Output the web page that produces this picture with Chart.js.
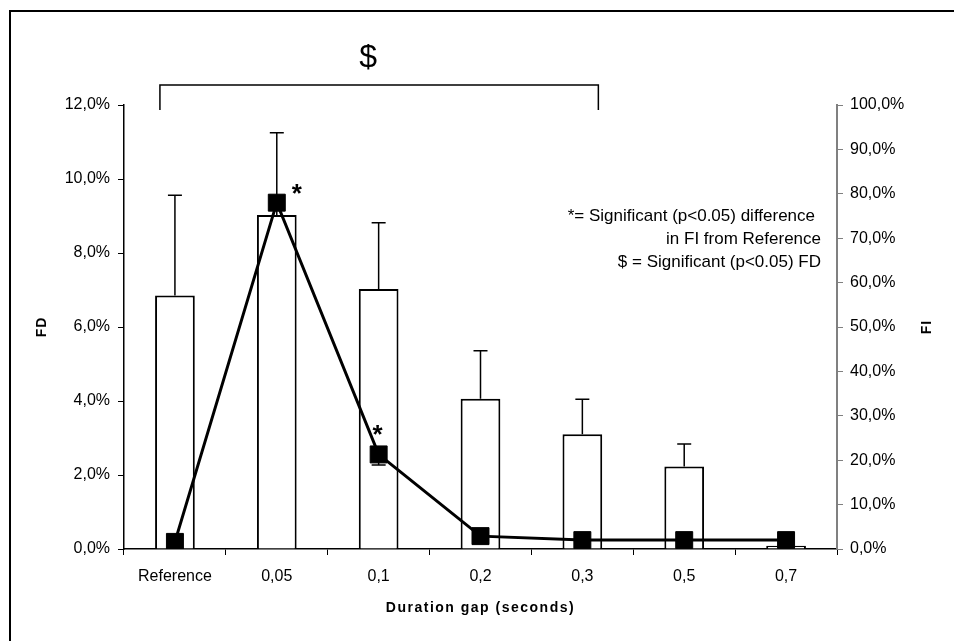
<!DOCTYPE html>
<html>
<head>
<meta charset="utf-8">
<script src="https://cdn.jsdelivr.net/npm/chart.js@4"></script>
<style>
  body { margin: 0; background: #fff; }
  #chart { display: block; }
</style>
</head>
<body>
<canvas id="chart" width="954" height="641"></canvas>
<script>
// Data (percent units)
const categories = ['Reference', '0,05', '0,1', '0,2', '0,3', '0,5', '0,7'];
const fdValues = [6.85, 9.03, 7.03, 4.06, 3.10, 2.23, 0.09];
const fdErrors = [2.71, 2.22, 1.79, 1.30, 0.95, 0.61, 0];
const fiValues = [1.6, 78.0, 21.3, 2.9, 2.0, 2.0, 2.0];
const fiErrors = [0, 0, 2.4, 0, 0, 0, 0];
const significantFI = [1, 2];

const FONT = "'Liberation Sans', Arial, sans-serif";

function pct(v) {
    return v.toFixed(1).replace('.', ',') + '%';
}

// error bars: FD upward, FI downward
const errorBars = {
    id: 'errorBars',
    afterDatasetsDraw(chart) {
        const ctx = chart.ctx;
        const x = chart.scales.x;
        const yL = chart.scales.yFD;
        const yR = chart.scales.yFI;
        ctx.save();
        ctx.strokeStyle = '#000';
        ctx.lineWidth = 1.5;
        categories.forEach((c, i) => {
            const px = x.getPixelForValue(i);
            if (fdErrors[i] > 0) {
                const y0 = yL.getPixelForValue(fdValues[i]);
                const y1 = yL.getPixelForValue(fdValues[i] + fdErrors[i]);
                ctx.beginPath();
                ctx.moveTo(px, y0); ctx.lineTo(px, y1);
                ctx.moveTo(px - 7, y1); ctx.lineTo(px + 7, y1);
                ctx.stroke();
            }
            if (fiErrors[i] > 0) {
                const y0 = yR.getPixelForValue(fiValues[i]);
                const y1 = yR.getPixelForValue(fiValues[i] - fiErrors[i]);
                ctx.beginPath();
                ctx.moveTo(px, y0); ctx.lineTo(px, y1);
                ctx.moveTo(px - 7, y1); ctx.lineTo(px + 7, y1);
                ctx.stroke();
            }
        });
        ctx.restore();
    }
};

// frame, titles, bracket, asterisks, note
const decorations = {
    id: 'decorations',
    afterDraw(chart) {
        const ctx = chart.ctx;
        const x = chart.scales.x;
        const yR = chart.scales.yFI;
        const area = chart.chartArea;
        ctx.save();
        ctx.strokeStyle = '#000';
        ctx.lineWidth = 2;
        ctx.beginPath();
        ctx.moveTo(10, 641); ctx.lineTo(10, 11); ctx.lineTo(954, 11);
        ctx.stroke();

        ctx.fillStyle = '#000';
        // axis titles
        ctx.font = 'bold 14px ' + FONT;
        ctx.textAlign = 'center';
        ctx.textBaseline = 'middle';
        ctx.letterSpacing = '1px';
        ctx.save();
        ctx.translate(42, (area.top + area.bottom) / 2);
        ctx.rotate(-Math.PI / 2);
        ctx.fillText('FD', 0, 0);
        ctx.restore();
        ctx.save();
        ctx.translate(927, (area.top + area.bottom) / 2);
        ctx.rotate(-Math.PI / 2);
        ctx.fillText('FI', 0, 0);
        ctx.restore();
        ctx.letterSpacing = '1.5px';
        ctx.fillText('Duration gap (seconds)', (area.left + area.right) / 2, 608);
        ctx.letterSpacing = '0px';

        // bracket for FD significance
        const bl = x.getPixelForValue(0) - 15;
        const br = x.getPixelForValue(4) + 16;
        ctx.lineWidth = 1.5;
        ctx.beginPath();
        ctx.moveTo(bl, 110); ctx.lineTo(bl, 85); ctx.lineTo(br, 85); ctx.lineTo(br, 110);
        ctx.stroke();
        ctx.font = '32px ' + FONT;
        ctx.fillText('$', (bl + br) / 2 - 11, 58);

        // asterisks next to FI markers
        ctx.font = 'bold 26px ' + FONT;
        ctx.textBaseline = 'alphabetic';
        const offsets = [[20, -1], [-1, -11]];
        significantFI.forEach((i, k) => {
            const px = x.getPixelForValue(i);
            const py = yR.getPixelForValue(fiValues[i]);
            ctx.fillText('*', px + offsets[k][0], py + offsets[k][1]);
        });

        // note
        ctx.font = '17px ' + FONT;
        ctx.textAlign = 'right';
        ctx.textBaseline = 'middle';
        ctx.fillText('*= Significant (p<0.05) difference', 815, 216);
        ctx.fillText('in FI from Reference', 821, 239);
        ctx.fillText('$ = Significant (p<0.05) FD', 821, 262);
        ctx.restore();
    }
};

Chart.defaults.color = '#000';
Chart.defaults.font.family = FONT;
Chart.defaults.font.size = 16;

new Chart(document.getElementById('chart'), {
    type: 'bar',
    data: {
        labels: categories,
        datasets: [{
            type: 'line',
            label: 'FI',
            data: fiValues,
            yAxisID: 'yFI',
            borderColor: '#000',
            borderWidth: 3,
            pointStyle: 'rect',
            pointRadius: 12,
            pointBackgroundColor: '#000',
            pointBorderColor: '#000',
            pointBorderWidth: 1,
            tension: 0,
            order: 1
        }, {
            label: 'FD',
            data: fdValues,
            yAxisID: 'yFD',
            backgroundColor: '#fff',
            borderColor: '#000',
            borderWidth: 2,
            categoryPercentage: 1,
            barPercentage: 0.39,
            order: 2
        }]
    },
    options: {
        responsive: false,
        animation: false,
        layout: { padding: { top: 105, left: 0, right: 0, bottom: 0 } },
        plugins: { legend: { display: false }, tooltip: { enabled: false } },
        scales: {
            x: {
                grid: { drawOnChartArea: false, color: '#000', tickLength: 6, offset: true },
                border: { color: '#000', width: 1.5 },
                ticks: { padding: 12, maxRotation: 0 },
                afterFit(scale) { scale.height = 92; }
            },
            yFD: {
                position: 'left',
                min: 0, max: 12,
                grid: { drawOnChartArea: false, color: '#000', tickLength: 6 },
                border: { color: '#000', width: 1.5 },
                ticks: { stepSize: 2, padding: 8, callback: v => pct(v) },
                afterFit(scale) { scale.width = 124; }
            },
            yFI: {
                position: 'right',
                min: 0, max: 100,
                grid: { drawOnChartArea: false, color: '#808080', tickLength: 6 },
                border: { color: '#808080', width: 2 },
                ticks: { stepSize: 10, padding: 7, callback: v => pct(v) },
                afterFit(scale) { scale.width = 117; }
            }
        }
    },
    plugins: [errorBars, decorations]
});
</script>
</body>
</html>
